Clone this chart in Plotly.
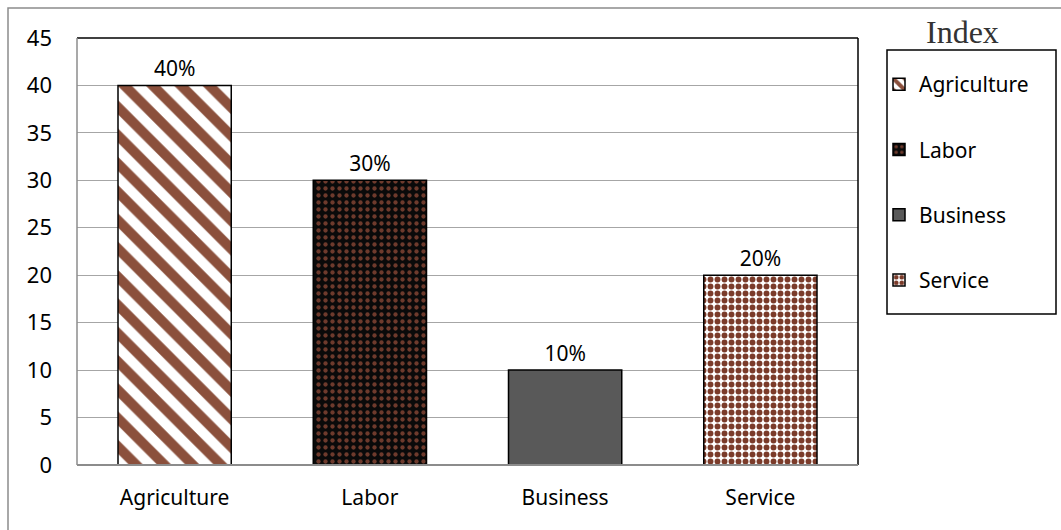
import plotly.graph_objects as go

categories = ["Agriculture", "Labor", "Business", "Service"]
values = [40, 30, 10, 20]
labels = ["40%", "30%", "10%", "20%"]
y_ticks = [0, 5, 10, 15, 20, 25, 30, 35, 40, 45]

patterns = [
    dict(shape="\\", fgcolor="#7e3d26", fgopacity=0.9, bgcolor="white", size=20, solidity=0.5, fillmode="overlay"),
    dict(shape=".", fgcolor="#6e3a2c", fgopacity=1, bgcolor="#0a0a0a", size=7, solidity=0.3, fillmode="overlay"),
    dict(shape="", fgcolor="#595959", bgcolor="#595959"),
    dict(shape=".", fgcolor="#7b3b2a", fgopacity=1, bgcolor="white", size=7, solidity=0.55, fillmode="overlay"),
]
fills = ["white", "#0a0a0a", "#595959", "white"]

FONT = "Noto Sans"
FS = 22
fig = go.Figure()
for i, c in enumerate(categories):
    fig.add_trace(go.Bar(
        x=[c], y=[values[i]], name=c, legendgroup=c,
        text=[labels[i]], textposition="outside", cliponaxis=False,
        textfont=dict(family=FONT, size=FS - 1, color="black"),
        marker=dict(color=fills[i], line=dict(color="black", width=1.5),
                    pattern=patterns[i]),
        width=0.58,
    ))

W, H = 1061, 530
L, R, T, B = 77, 858, 38, 465
pw, ph = R - L, B - T

def px(x):
    return (x - L) / pw

def py(y):
    return (B - y) / ph

fig.update_layout(
    width=W, height=H,
    margin=dict(l=L, r=W - R, t=T, b=H - B),
    paper_bgcolor="white", plot_bgcolor="white",
    barmode="overlay",
    font=dict(family=FONT, size=FS, color="black"),
    xaxis=dict(categoryorder="array", categoryarray=categories,
               showline=False, showgrid=False, ticks="", tickfont=dict(size=FS - 1),
               range=[-0.5, 3.5], ticklabelstandoff=18),
    yaxis=dict(range=[0, 45], tickvals=y_ticks, showgrid=True,
               gridcolor="#a6a6a6", gridwidth=1.3, showline=False, zeroline=False,
               ticks="", tickfont=dict(size=FS), ticklabelstandoff=24),
    showlegend=True,
    legend=dict(x=px(879), y=py(64), xanchor="left", yanchor="top",
                borderwidth=0, bgcolor="rgba(0,0,0,0)",
                font=dict(family=FONT, size=FS - 1), tracegroupgap=35,
                itemwidth=30, traceorder="grouped", entrywidth=140,
                ),
    annotations=[dict(text="Index", x=px(962), y=py(32), xref="paper", yref="paper",
                      showarrow=False, xanchor="center", yanchor="middle",
                      font=dict(family="Liberation Serif", size=32, color="#333"))],
    shapes=[
        # outer frame
        dict(type="rect", xref="paper", yref="paper", x0=px(8), y0=py(540), x1=px(1075), y1=py(8),
             line=dict(color="#8c8c8c", width=1.5), layer="below"),
        # legend box
        dict(type="rect", xref="paper", yref="paper", x0=px(887), y0=py(314), x1=px(1056), y1=py(50),
             line=dict(color="black", width=1.5), fillcolor="white", layer="below"),
        # plot area borders
        dict(type="line", xref="paper", yref="paper", x0=0, x1=1, y0=1, y1=1,
             line=dict(color="black", width=1.5)),
        dict(type="line", xref="paper", yref="paper", x0=1, x1=1, y0=0, y1=1,
             line=dict(color="black", width=1.5)),
        dict(type="line", xref="paper", yref="paper", x0=0, x1=0, y0=0, y1=1,
             line=dict(color="#8c8c8c", width=1.5)),
        dict(type="line", xref="paper", yref="paper", x0=0, x1=1, y0=0, y1=0,
             line=dict(color="#8c8c8c", width=2)),
    ],
)

fig.write_html("out.html")
